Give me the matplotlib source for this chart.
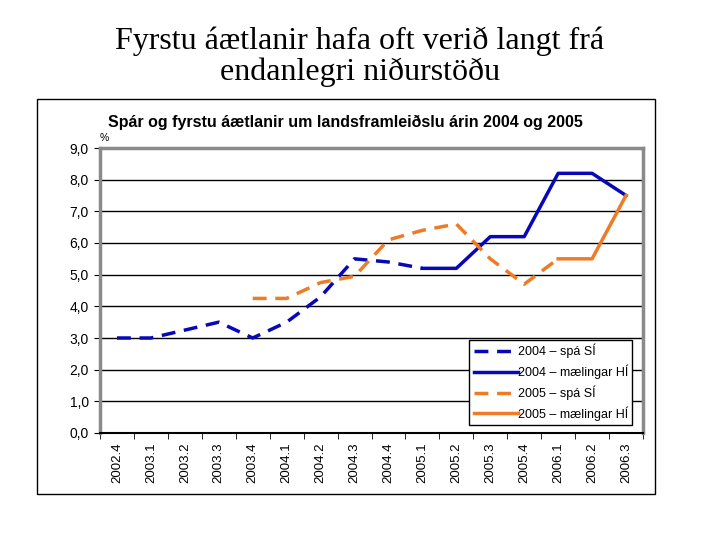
import matplotlib
matplotlib.use("Agg")
import matplotlib.pyplot as plt
from matplotlib.patches import Rectangle
from matplotlib.lines import Line2D

# --- data ---
quarters = ["2002.4", "2003.1", "2003.2", "2003.3", "2003.4", "2004.1",
            "2004.2", "2004.3", "2004.4", "2005.1", "2005.2", "2005.3",
            "2005.4", "2006.1", "2006.2", "2006.3"]

# 2004: forecast (dashed) up to 2005.1, measured (solid) from 2005.1
y2004_spa = [3.0, 3.0, 3.25, 3.5, 3.0, 3.5, 4.3, 5.5, 5.4, 5.2]
y2004_maeling = [5.2, 5.2, 6.2, 6.2, 8.2, 8.2, 7.5]
# 2005: forecast starts 2003.4 and runs to 2006.1, measured after that
y2005_spa = [4.25, 4.25, 4.75, 4.95, 6.1, 6.4, 6.6, 5.5, 4.7, 5.5]
y2005_maeling = [5.5, 5.5, 7.5]

yticks = [0, 1, 2, 3, 4, 5, 6, 7, 8, 9]
ytick_labels = [f"{v:.1f}".replace(".", ",") for v in yticks]

title = "Fyrstu áætlanir hafa oft verið langt frá\nendanlegri niðurstöðu"
subtitle = "Spár og fyrstu áætlanir um landsframleiðslu árin 2004 og 2005"
legend_labels = ["2004 – spá SÍ", "2004 – mælingar HÍ",
                 "2005 – spá SÍ", "2005 – mælingar HÍ"]

BLUE = "#0808B8"
ORANGE = "#EE7B26"

fig = plt.figure(figsize=(7.2, 5.4), dpi=100)
fig.patch.set_facecolor("white")

fig.text(0.5, 1 - 57 / 540, title, ha="center", va="center", fontsize=23,
         family="Liberation Serif", linespacing=1.05)

# outer chart box
fig.patches.append(Rectangle((37 / 720, 1 - 494 / 540), 618 / 720, 395 / 540,
                             transform=fig.transFigure, fill=False,
                             edgecolor="black", linewidth=1.0))

fig.text(108 / 720, 1 - 122 / 540, subtitle, ha="left", va="center",
         fontsize=11.5, fontweight="bold", family="Liberation Sans")
fig.text(100 / 720, 1 - 138 / 540, "%", ha="left", va="center",
         fontsize=7.5, family="Liberation Sans")

ax = fig.add_axes([100 / 720, 1 - 433 / 540, 543 / 720, 285 / 540])

x = list(range(len(quarters)))
i04 = quarters.index("2005.1")
i05 = quarters.index("2003.4")
j05 = quarters.index("2006.1")

ax.plot(x[:len(y2004_spa)], y2004_spa, color=BLUE, lw=2.5,
        dashes=(4, 2.5), label=legend_labels[0])
ax.plot(x[i04:i04 + len(y2004_maeling)], y2004_maeling, color=BLUE, lw=2.5,
        label=legend_labels[1])
ax.plot(x[i05:i05 + len(y2005_spa)], y2005_spa, color=ORANGE, lw=2.5,
        dashes=(4, 2.5), label=legend_labels[2])
ax.plot(x[j05:j05 + len(y2005_maeling)], y2005_maeling, color=ORANGE, lw=2.5,
        label=legend_labels[3])

ax.set_xlim(-0.5, len(quarters) - 0.5)
ax.set_ylim(0, 9)
ax.set_yticks(yticks)
ax.set_yticklabels(ytick_labels, family="Liberation Sans", fontsize=10)
ax.yaxis.grid(True, color="black", linewidth=1.0)
ax.set_axisbelow(True)

ax.set_xticks(x)
ax.set_xticklabels(quarters, rotation=90, family="Liberation Sans",
                   fontsize=9.5)
ax.set_xticks([i - 0.5 for i in range(len(quarters) + 1)], minor=True)
ax.tick_params(axis="x", which="major", length=0, pad=7)
ax.tick_params(axis="x", which="minor", length=4, direction="out")
ax.tick_params(axis="y", length=4, direction="out", pad=4)

for side in ("left", "top", "right"):
    ax.spines[side].set_color("#8A8A8A")
    ax.spines[side].set_linewidth(2.5)
ax.spines["bottom"].set_color("black")
ax.spines["bottom"].set_linewidth(1.5)

handles = [Line2D([], [], color=BLUE, lw=2.5, dashes=(4, 2.5)),
           Line2D([], [], color=BLUE, lw=2.5),
           Line2D([], [], color=ORANGE, lw=2.5, dashes=(4, 2.5)),
           Line2D([], [], color=ORANGE, lw=2.5)]
leg = ax.legend(handles, legend_labels, loc="lower right",
                bbox_to_anchor=(0.98, 0.028), borderaxespad=0,
                frameon=True, fancybox=False,
                framealpha=1, edgecolor="black", handlelength=3.5,
                handletextpad=0.0, borderpad=0.35, labelspacing=0.5,
                prop={"family": "Liberation Sans", "size": 9})
leg.get_frame().set_linewidth(1.0)

fig.savefig("out.png", dpi=100)
